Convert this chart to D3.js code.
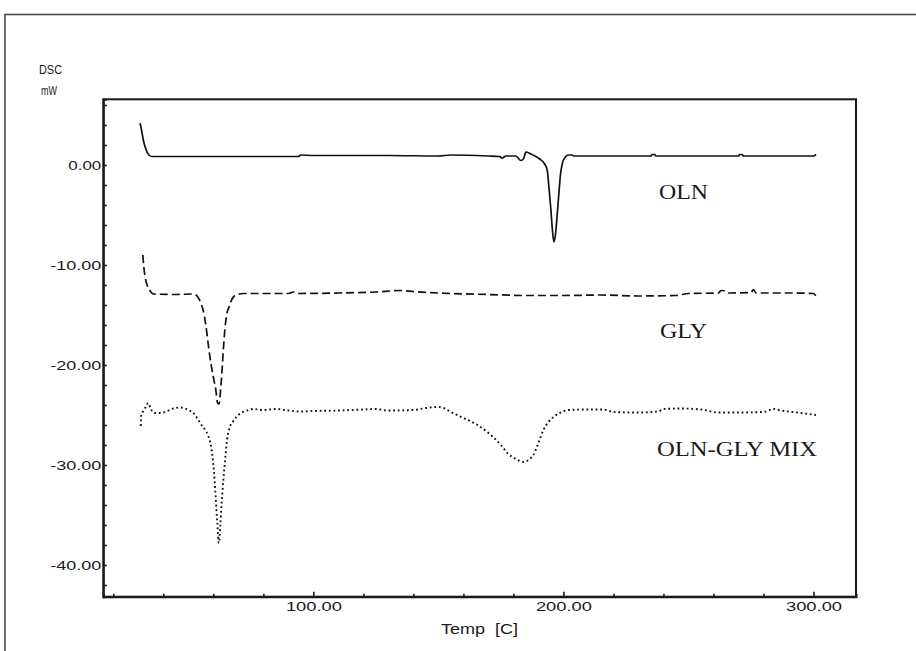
<!DOCTYPE html>
<html>
<head>
<meta charset="utf-8">
<script src="https://cdn.jsdelivr.net/npm/d3@7"></script>
<style>
  html, body { margin: 0; padding: 0; background: #fff; }
  svg { display: block; }
  text { font-family: "Liberation Sans", Arial, sans-serif; fill: #1a1a1a; }
  .serif { font-family: "Liberation Serif", "Times New Roman", serif; }
</style>
</head>
<body>
<svg id="chart" width="916" height="651"></svg>
<script>
// DSC thermograms: heat flow (mW) against temperature (°C)
const seriesNames = ["OLN", "GLY", "OLN-GLY MIX"];

const olnCurve = [
  [30.7, 4.2], [31.2, 3.6], [32, 2.5], [33, 1.6], [34.2, 1.0], [35.5, 0.85], [50, 0.85],
  [75, 0.85], [94, 0.85], [95, 1.0], [100, 0.95], [130, 0.95], [150, 0.9], [155, 1.0],
  [170, 0.9], [174.5, 0.85], [175.5, 0.7], [177, 0.9], [181, 0.9], [183, 0.45], [184, 0.6],
  [185, 1.3], [187, 1.1], [189, 0.85], [190.5, 0.6], [192.5, 0.1], [193.5, -0.5],
  [194.3, -2.5], [195, -4.5], [195.6, -6.5], [196.2, -7.7], [196.8, -7.0], [197.5, -5.0],
  [198.2, -2.8], [198.8, -1.0], [199.6, 0.2], [200.5, 0.7], [202, 1.0], [203.5, 1.0],
  [204, 0.9], [235, 0.9], [235.5, 1.05], [236.5, 1.05], [237, 0.9], [270, 0.9],
  [270.5, 1.05], [271.5, 1.05], [272, 0.9], [300, 0.9], [301, 1.05]
];

const glyCurve = [
  [31.8, -9.0], [32.2, -10.2], [32.8, -11.3], [33.5, -12.0], [34.5, -12.5], [36, -12.9],
  [45, -12.95], [52, -12.9], [53.5, -13.1], [55, -13.8], [56, -14.6], [57, -16.0],
  [58, -18.0], [59, -19.8], [60, -21.2], [61, -22.5], [61.7, -23.8], [62.3, -23.9],
  [62.9, -22.5], [63.5, -20.5], [64, -18.5], [64.6, -16.5], [65.3, -15.0], [66.3, -14.2],
  [67.5, -13.4], [69, -13.0], [72, -12.85], [90, -12.85], [92, -12.7], [94, -12.85],
  [110, -12.8], [125, -12.7], [135, -12.55], [140, -12.65], [150, -12.8], [170, -12.95],
  [185, -13.05], [200, -13.05], [215, -13.0], [230, -13.1], [245, -13.05], [250, -12.85],
  [262, -12.8], [263, -12.55], [265, -12.6], [266, -12.8], [275, -12.75], [276, -12.45],
  [277, -12.8], [290, -12.8], [300, -12.85], [301, -13.1]
];

const mixCurve = [
  [31, -26.1], [31.2, -25.0], [32, -24.6], [33, -24.2], [34, -23.8], [35, -24.4],
  [36.5, -24.8], [39, -24.8], [41.5, -24.6], [44, -24.35], [47, -24.25], [50, -24.5],
  [52, -24.8], [53.5, -25.3], [55, -25.9], [56.5, -26.4], [58, -27.1], [59, -28.0],
  [59.8, -29.5], [60.5, -31.5], [61, -33.5], [61.6, -35.8], [62.2, -37.8], [62.8, -36.0],
  [63.3, -34.0], [64, -31.5], [64.7, -29.5], [65.5, -27.5], [66.5, -26.3], [68, -25.6],
  [70, -25.0], [73, -24.6], [76, -24.4], [80, -24.5], [85, -24.4], [90, -24.55],
  [95, -24.65], [100, -24.6], [110, -24.55], [120, -24.45], [125, -24.4], [130, -24.55],
  [140, -24.5], [145, -24.3], [150, -24.2], [152, -24.3], [155, -24.7], [160, -25.3],
  [165, -25.9], [170, -26.8], [175, -28.0], [178, -28.9], [181, -29.4], [184, -29.7],
  [186.5, -29.4], [188, -29.0], [190, -27.8], [192, -26.5], [194, -25.7], [196, -25.2],
  [198.5, -24.8], [202, -24.5], [210, -24.45], [216, -24.45], [220, -24.7], [230, -24.75],
  [238, -24.65], [240, -24.4], [247, -24.35], [255, -24.45], [262, -24.75], [270, -24.75],
  [280, -24.7], [284, -24.4], [287, -24.55], [295, -24.8], [301, -25.0]
];

const xTicks = d3.range(20, 301, 20);
const xLabelTicks = [100, 200, 300];
const yTicks = d3.range(-42, 7, 2);
const yLabelTicks = [0, -10, -20, -30, -40];

const svg = d3.select("#chart");
svg.append("rect").attr("width", 916).attr("height", 651).attr("fill", "#fff");

// outer frame of the figure
svg.append("rect")
  .attr("x", 5).attr("y", 14.5).attr("width", 930).attr("height", 660)
  .attr("fill", "none").attr("stroke", "#4a4a4a").attr("stroke-width", 1.6);

const plot = { left: 103.3, right: 856, top: 99.3, bottom: 596.7 };

const x = d3.scaleLinear().domain([16, 317]).range([plot.left, plot.right]);
const y = d3.scaleLinear().domain([-43.17, 6.57]).range([plot.bottom, plot.top]);

// plot box
svg.append("rect")
  .attr("x", plot.left).attr("y", plot.top)
  .attr("width", plot.right - plot.left).attr("height", plot.bottom - plot.top)
  .attr("fill", "none").attr("stroke", "#1a1a1a").attr("stroke-width", 2);

// two decimals, plain hyphen for negatives
const fmt = d => d3.format(".2f")(d).replace("\u2212", "-");

// y axis: minor ticks inward, labelled majors every 10 mW
const yAxis = svg.append("g")
  .attr("transform", `translate(${plot.left},0)`)
  .call(d3.axisLeft(y).tickValues(yTicks).tickSize(-3.5).tickPadding(2)
    .tickFormat(d => yLabelTicks.includes(d) ? fmt(d) : ""));
yAxis.select(".domain").attr("stroke", "#1a1a1a").attr("stroke-width", 2);
yAxis.selectAll(".tick line").attr("stroke", "#1a1a1a").attr("stroke-width", 1.6);
yAxis.selectAll(".tick text")
  .attr("font-size", 13.5).attr("fill", "#1a1a1a")
  .attr("font-family", "Liberation Sans, Arial, sans-serif")
  .attr("lengthAdjust", "spacingAndGlyphs")
  .each(function(d) {
    if (yLabelTicks.includes(d)) d3.select(this).attr("textLength", d === 0 ? 33 : 51);
  });

// x axis: ticks point up into the plot
const xAxis = svg.append("g")
  .attr("transform", `translate(0,${plot.bottom})`)
  .call(d3.axisBottom(x).tickValues(xTicks).tickSize(-3).tickPadding(5)
    .tickFormat(d => xLabelTicks.includes(d) ? fmt(d) : ""));
xAxis.select(".domain").attr("stroke", "#1a1a1a").attr("stroke-width", 2);
xAxis.selectAll(".tick line").attr("stroke", "#1a1a1a").attr("stroke-width", 1.6)
  .attr("y2", d => xLabelTicks.includes(d) ? -5 : -3);
xAxis.selectAll(".tick text")
  .attr("font-size", 13.5).attr("fill", "#1a1a1a")
  .attr("font-family", "Liberation Sans, Arial, sans-serif")
  .attr("lengthAdjust", "spacingAndGlyphs")
  .each(function(d) {
    if (xLabelTicks.includes(d)) d3.select(this).attr("textLength", 56);
  });

// axis titles
svg.append("text").attr("x", 39).attr("y", 74)
  .attr("font-size", 13).attr("textLength", 23).attr("lengthAdjust", "spacingAndGlyphs")
  .text("DSC");
svg.append("text").attr("x", 41).attr("y", 95)
  .attr("font-size", 13).attr("textLength", 16).attr("lengthAdjust", "spacingAndGlyphs")
  .text("mW");
svg.append("text").attr("x", 441).attr("y", 634)
  .attr("font-size", 14.5).attr("textLength", 77).attr("lengthAdjust", "spacingAndGlyphs")
  .style("white-space", "pre")
  .text("Temp  [C]");

// thermogram traces
const line = d3.line().x(d => x(d[0])).y(d => y(d[1])).curve(d3.curveMonotoneX);
const traces = [
  { data: olnCurve, dash: null, width: 1.7 },
  { data: glyCurve, dash: "8,4", width: 1.7 },
  { data: mixCurve, dash: "1.8,2.8", width: 1.9 }
];
svg.append("g").selectAll("path").data(traces).join("path")
  .attr("d", d => line(d.data))
  .attr("fill", "none")
  .attr("stroke", "#111")
  .attr("stroke-width", d => d.width)
  .attr("stroke-dasharray", d => d.dash);

// series names beside their traces
const nameSpots = [
  { x: 659, y: 199, w: 49 },
  { x: 660, y: 338, w: 47 },
  { x: 657, y: 456, w: 160 }
];
svg.append("g").selectAll("text").data(seriesNames).join("text")
  .attr("class", "serif")
  .attr("x", (d, i) => nameSpots[i].x)
  .attr("y", (d, i) => nameSpots[i].y)
  .attr("font-size", 22)
  .attr("textLength", (d, i) => nameSpots[i].w)
  .attr("lengthAdjust", "spacingAndGlyphs")
  .text(d => d);
</script>
</body>
</html>
